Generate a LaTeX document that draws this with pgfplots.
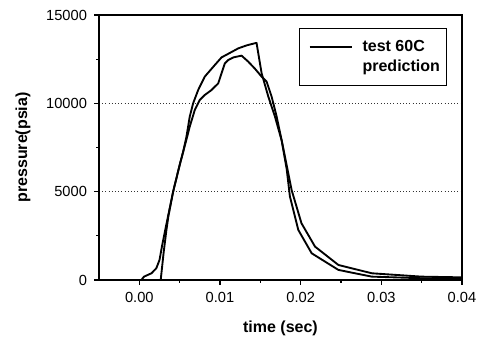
\documentclass[border=0pt]{standalone}
\usepackage{fontspec}
\setmainfont{Liberation Sans}
\usepackage{pgfplots}
\pgfplotsset{compat=1.18}
\begin{document}
\begin{tikzpicture}
\begin{axis}[
  scale only axis,
  width=272.25pt, height=198.75pt,
  xmin=-0.005, xmax=0.04, ymin=0, ymax=15000,
  xtick={0,0.01,0.02,0.03,0.04},
  ytick={0,5000,10000,15000},
  minor x tick num=1,
  minor y tick num=1,
  xtick pos=bottom, ytick pos=left,
  tick align=outside,
  major tick length=3.5pt, minor tick length=2pt,
  scaled x ticks=false, scaled y ticks=false,
  /pgf/number format/assume math mode=true,
  xticklabel style={/pgf/number format/fixed, /pgf/number format/fixed zerofill, /pgf/number format/precision=2, font=\fontsize{11}{13}\selectfont, yshift=-2pt},
  yticklabel style={/pgf/number format/set thousands separator={}, font=\fontsize{11}{13}\selectfont, xshift=-2pt},
  axis line style={line width=0.9pt},
  every tick/.style={line width=0.8pt, black},
  ymajorgrids,
  grid style={dotted, line width=0.7pt, black!80},
  xlabel={\bfseries time (sec)},
  ylabel={\bfseries pressure(psia)},
  label style={font=\fontsize{12}{14}\selectfont},
  xlabel style={yshift=-7pt},
  ylabel style={yshift=5pt},
  legend style={at={(0.959,0.951)}, anchor=north east, draw=black, line width=0.8pt,
    font=\bfseries\fontsize{12}{14}\selectfont, inner xsep=3pt, inner ysep=7pt,
    row sep=1pt},
  legend cell align=left,
  legend image code/.code={\path (-4pt,0pt) (37pt,0pt); \draw[#1] (0pt,0pt) -- (32pt,0pt);},
]
\addplot[black, line width=1.4pt, line join=round] coordinates {
(-0.005,0) (0.00025,0) (0.00058,190) (0.0015,380) (0.0021,660) (0.0025,1130) (0.0028,1890)
(0.00315,2700) (0.0036,3700) (0.00419,5000) (0.005,6510) (0.00543,7250) (0.00584,7950)
(0.00625,8680) (0.00687,9620) (0.00749,10190) (0.00811,10470) (0.00894,10750)
(0.00978,11130) (0.01019,11700) (0.0106,12260) (0.01101,12450) (0.01167,12600)
(0.01267,12700) (0.0135,12360) (0.01435,11950) (0.01516,11510) (0.01578,11230)
(0.0164,10380) (0.01702,9250) (0.01764,7920) (0.01826,6500) (0.01888,5090)
(0.0201,3210) (0.02178,1890) (0.02468,850) (0.02882,380) (0.035,190) (0.04,150)
};
\addlegendentry{test 60C}
\addplot[black, line width=1.4pt, line join=round, legend image code/.code={}] coordinates {
(-0.005,0) (0.00265,0) (0.0030,1500) (0.00335,2800) (0.0036,3600) (0.00419,5000)
(0.005,6510) (0.00543,7250) (0.00584,8110) (0.00625,9250) (0.00667,10000)
(0.00729,10750) (0.00811,11510) (0.00936,12170) (0.01019,12600) (0.01101,12800)
(0.01226,13110) (0.0133,13280) (0.01432,13400) (0.01453,13420) (0.01516,11700)
(0.01599,10380) (0.01681,9250) (0.01764,7900) (0.01826,6300) (0.01867,4720)
(0.01971,2830) (0.02137,1510) (0.02468,570) (0.02882,190) (0.035,100) (0.04,80)
};
\addlegendentry{prediction}
\end{axis}
\pgfresetboundingbox
\path (current axis.south west) ++(-74.25pt,-43.5pt) coordinate (bbsw);
\path (current axis.north east) ++(15pt,11.25pt) coordinate (bbne);
\useasboundingbox (bbsw) rectangle (bbne);
\end{tikzpicture}
\end{document}
